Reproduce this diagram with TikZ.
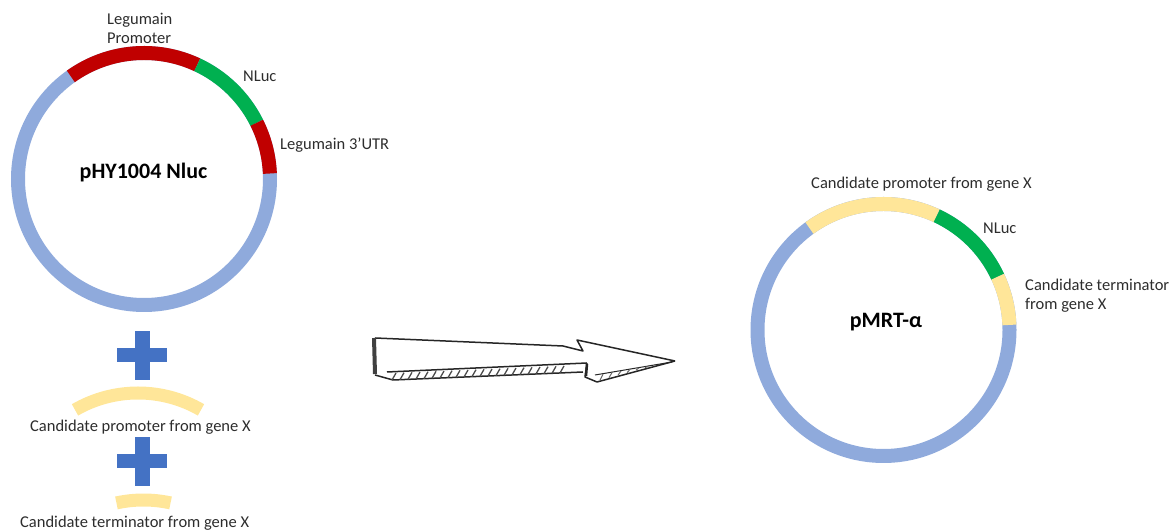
\documentclass[tikz,border=0pt]{standalone}
\usepackage{xcolor}
\usepackage{fontspec}
\setmainfont{Carlito}
\usepackage{tikz}
\definecolor{backbone}{RGB}{143,170,220}
\definecolor{legred}{RGB}{192,0,0}
\definecolor{nlucgreen}{RGB}{0,176,80}
\definecolor{genex}{RGB}{255,230,153}
\definecolor{plusblue}{RGB}{68,114,196}
\definecolor{labelgray}{RGB}{45,45,45}
\tikzset{
    ringpart/.style={line width=14pt,line cap=butt},
    lbl/.style={inner sep=0pt,anchor=west,text=labelgray,font=\fontsize{16.5}{19}\selectfont,align=left},
    plasmidname/.style={inner sep=0pt,text=black,font=\fontsize{22}{26}\selectfont\bfseries},
    plusbar/.style={fill=plusblue,inner sep=0pt,minimum width=#1,draw=none},
    sketchline/.style={draw=black!85,line width=1.5pt,line join=round}
}

\begin{document}
\begin{tikzpicture}[x=1pt,y=1pt]
    \useasboundingbox (0,0) rectangle (1171,532);
    \coordinate (lefthub) at (144,353);
    \coordinate (righthub) at (883.5,202);

    % left plasmid
    \draw[ringpart,draw=backbone] (lefthub) circle[radius=126];
    \draw[ringpart,draw=legred] ([shift={(125.5:126)}]lefthub) arc[start angle=125.5,end angle=65,radius=126];
    \draw[ringpart,draw=nlucgreen] ([shift={(65:126)}]lefthub) arc[start angle=65,end angle=26.5,radius=126];
    \draw[ringpart,draw=legred] ([shift={(26.5:126)}]lefthub) arc[start angle=26.5,end angle=2.5,radius=126];

    % right plasmid
    \draw[ringpart,draw=backbone] (righthub) circle[radius=126];
    \draw[ringpart,draw=genex] ([shift={(126:126)}]righthub) arc[start angle=126,end angle=65,radius=126];
    \draw[ringpart,draw=nlucgreen] ([shift={(65:126)}]righthub) arc[start angle=65,end angle=25,radius=126];
    \draw[ringpart,draw=genex] ([shift={(25:126)}]righthub) arc[start angle=25,end angle=2.3,radius=126];

    % inserts
    \coordinate (promhub) at (138,13);
    \coordinate (termhub) at (143.5,-94);
    \draw[ringpart,line width=13pt,draw=genex] ([shift={(120:126)}]promhub) arc[start angle=120,end angle=60,radius=126];
    \draw[ringpart,line width=13pt,draw=genex] ([shift={(102.4:126)}]termhub) arc[start angle=102.4,end angle=77.6,radius=126];

    % plus signs
    \foreach \plusname/\plusy in {plusone/176.5,plustwo/70.5}{
        \node[plusbar=50pt,minimum height=14pt] (\plusname h) at (142,\plusy) {};
        \node[plusbar=15pt,minimum height=49pt] (\plusname v) at (142.5,\plusy) {};
    }

    % sketched arrow
    \draw[sketchline] (375,194) -- (563,186) -- (583,181) -- (577,192) -- (675,171);
    \draw[sketchline] (387,160) -- (587,169);
    \draw[sketchline] (375,157) -- (393,152) -- (583,160);
    \draw[sketchline] (675,171) -- (597,150) -- (585,155) -- (587,169);
    \draw[sketchline,line width=1pt] (672,170) -- (595,157);
    \draw[line width=4pt,draw=black!75] (374,194) -- (375,158);
    \draw[line width=2.5pt,draw=black!85] (587,168) -- (586,156);
    \foreach \hatchx in {392,400,...,560}{
        \pgfmathsetmacro{\hatchy}{152+(\hatchx-393)*0.042}
        \draw[black!70,line width=1.3pt] (\hatchx,\hatchy) -- ({\hatchx+4},{\hatchy+7});
    }
    \foreach \hatchx in {600,609,...,645}{
        \pgfmathsetmacro{\hatchy}{151+(\hatchx-597)*0.276}
        \draw[black!60,line width=1pt] (\hatchx,\hatchy) -- ({\hatchx+3},{\hatchy+6-(\hatchx-600)*0.1});
    }

    % labels
    \node[lbl] (prom) at (107,503.5) {Legumain\\Promoter};
    \node[lbl] (nlucleft) at (243,455.5) {NLuc};
    \node[lbl] (utr) at (280,386.5) {Legumain 3’UTR};
    \node[plasmidname] (phy) at (143.5,359.5) {pHY1004 Nluc};
    \node[lbl] (candprom) at (811,348) {Candidate promoter from gene X};
    \node[lbl] (nlucright) at (983,303.5) {NLuc};
    \node[lbl] (candterm) at (1025,236.5) {Candidate terminator\\from gene X};
    \node[plasmidname] (pmrt) at (886,210) {pMRT-α};
    \node[lbl] (insertprom) at (30,105) {Candidate promoter from gene X};
    \node[lbl] (insertterm) at (20,9) {Candidate terminator from gene X};
\end{tikzpicture}
\end{document}
